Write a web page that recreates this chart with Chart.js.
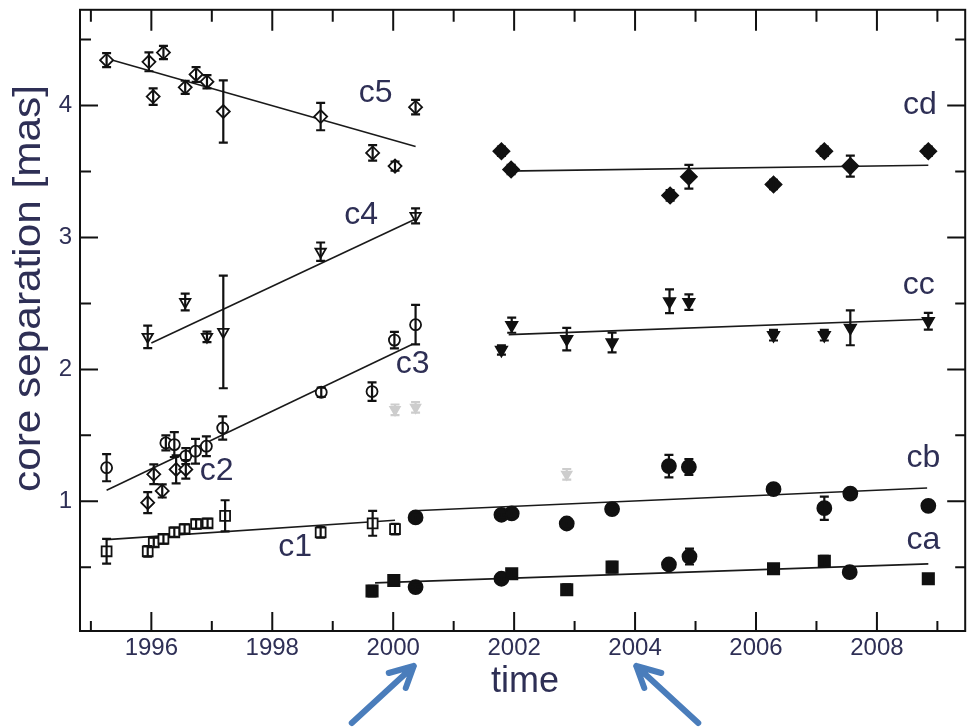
<!DOCTYPE html>
<html><head><meta charset="utf-8">
<script src="https://cdn.jsdelivr.net/npm/chart.js@4.4.0/dist/chart.umd.min.js"></script>
<style>html,body{margin:0;padding:0;overflow:hidden;background:#fff}canvas{display:block}</style>
</head><body><canvas id="c" width="975" height="728"></canvas>
<script>
// ---------- data ----------
const xTickLabels = [1996, 1998, 2000, 2002, 2004, 2006, 2008];
const xMinorTicks = [1995, 1997, 1999, 2001, 2003, 2005, 2007, 2009];
const yTickLabels = [1, 2, 3, 4];
const yMinorTicks = [0.5, 1.5, 2.5, 3.5, 4.5];

const c5Years = [1995.26, 1995.96, 1996.03, 1996.20, 1996.56, 1996.74, 1996.92, 1997.19, 1998.80, 1999.66, 2000.03, 2000.37];
const c5Vals  = [4.344, 4.332, 4.068, 4.402, 4.138, 4.236, 4.181, 3.955, 3.917, 3.641, 3.541, 3.988];
const c5Err   = [0.053, 0.072, 0.063, 0.05, 0.05, 0.056, 0.05, 0.236, 0.104, 0.059, 0.035, 0.055];
const c5FitYears = [1995.26, 2000.37];
const c5FitVals  = [4.357, 3.69];

const c4Years = [1995.94, 1996.56, 1996.92, 1997.19, 1998.80, 2000.37];
const c4Vals  = [2.247, 2.511, 2.247, 2.284, 2.892, 3.164];
const c4Err   = [0.085, 0.063, 0.04, 0.427, 0.07, 0.057];
const c4FitYears = [1996.0, 2000.37];
const c4FitVals  = [2.20, 3.14];

const c3Years = [1995.26, 1996.24, 1996.38, 1996.57, 1996.73, 1996.91, 1997.18, 1998.81, 1999.65, 2000.02, 2000.37];
const c3Vals  = [1.255, 1.443, 1.43, 1.343, 1.38, 1.418, 1.556, 1.827, 1.832, 2.222, 2.339];
const c3Err   = [0.103, 0.057, 0.094, 0.06, 0.094, 0.075, 0.088, 0.035, 0.07, 0.063, 0.15];

const c2Years = [1995.94, 1996.04, 1996.18, 1996.41, 1996.57];
const c2Vals  = [0.99, 1.205, 1.079, 1.242, 1.242];
const c2Err   = [0.08, 0.075, 0.05, 0.106, 0.07];
const c23FitYears = [1995.26, 2000.31];
const c23FitVals  = [1.084, 2.189];

const c1Years = [1995.26, 1995.94, 1996.04, 1996.20, 1996.38, 1996.55, 1996.74, 1996.93, 1997.22, 1998.80, 1999.66, 2000.03];
const c1Vals  = [0.621, 0.621, 0.689, 0.715, 0.765, 0.79, 0.828, 0.833, 0.89, 0.765, 0.833, 0.79];
const c1Err   = [0.094, 0.04, 0.035, 0.035, 0.035, 0.035, 0.035, 0.035, 0.118, 0.04, 0.094, 0.04];
const c1FitYears = [1995.26, 2000.03];
const c1FitVals  = [0.71, 0.856];

const cdYears = [2001.79, 2001.95, 2004.58, 2004.89, 2006.29, 2007.13, 2007.56, 2008.85];
const cdVals  = [3.654, 3.515, 3.319, 3.46, 3.402, 3.654, 3.541, 3.654];
const cdErr   = [0.035, 0.035, 0.04, 0.09, 0.035, 0.035, 0.08, 0.035];
const cdFitYears = [2001.85, 2008.85];
const cdFitVals  = [3.503, 3.548];

const ccYears = [2001.79, 2001.96, 2002.87, 2003.62, 2004.57, 2004.89, 2006.29, 2007.13, 2007.56, 2008.85];
const ccVals  = [2.147, 2.335, 2.23, 2.204, 2.516, 2.51, 2.259, 2.259, 2.315, 2.365];
const ccErr   = [0.035, 0.057, 0.085, 0.075, 0.09, 0.059, 0.04, 0.04, 0.132, 0.063];
const ccFitYears = [2001.91, 2008.85];
const ccFitVals  = [2.264, 2.38];

const cbYears = [2000.37, 2001.79, 2001.96, 2002.87, 2003.62, 2004.56, 2004.89, 2006.29, 2007.13, 2007.56, 2008.85];
const cbVals  = [0.878, 0.898, 0.908, 0.832, 0.941, 1.267, 1.26, 1.092, 0.948, 1.059, 0.966];
const cbErr   = [0.02, 0.02, 0.02, 0.02, 0.02, 0.085, 0.06, 0.02, 0.088, 0.02, 0.02];
const cbFitYears = [2000.35, 2008.83];
const cbFitVals  = [0.928, 1.101];

const caSqYears = [1999.65, 2000.01, 2001.96, 2002.87, 2003.62, 2006.29, 2007.13, 2008.85];
const caSqVals  = [0.32, 0.40, 0.451, 0.33, 0.501, 0.489, 0.546, 0.413];
const caSqErr   = [0.04, 0.02, 0.03, 0.04, 0.04, 0.03, 0.04, 0.03];
const caCiYears = [2000.37, 2001.79, 2004.56, 2004.90, 2007.55];
const caCiVals  = [0.35, 0.413, 0.521, 0.581, 0.463];
const caCiErr   = [0.02, 0.02, 0.035, 0.06, 0.03];
const caFitYears = [1999.7, 2008.85];
const caFitVals  = [0.382, 0.526];

const greyYears = [2000.03, 2000.37, 2002.87];
const greyVals  = [1.694, 1.712, 1.205];
const greyErr   = [0.04, 0.04, 0.04];

const labelTexts = ['c5', 'c4', 'c3', 'c2', 'c1', 'cd', 'cc', 'cb', 'ca'];
const labelYears = [1999.71, 1999.47, 2000.32, 1997.08, 1998.38, 2008.71, 2008.69, 2008.77, 2008.77];
const labelVals  = [4.093, 3.166, 2.036, 1.229, 0.649, 4.003, 2.639, 1.327, 0.702];

const arrowYears = [2000.34, 2004.02];

// ---------- styling / build ----------
const TXT = '#2e2f55';
const pts = (xs, ys) => xs.map((x, i) => ({x, y: ys[i]}));

function marks(xs, ys, errs, style, r, fill, extra) {
  return Object.assign({
    type: 'scatter', data: pts(xs, ys), errors: errs,
    pointStyle: style, pointRadius: r, pointBackgroundColor: fill,
    pointBorderColor: '#111', pointBorderWidth: 1.8, order: 1
  }, extra || {});
}
function fit(xs, ys) {
  return { type: 'scatter', data: pts(xs, ys), showLine: true, pointRadius: 0,
    borderColor: '#1a1a1a', borderWidth: 1.6, fill: false, order: 2 };
}

const datasets = [
  fit(c5FitYears, c5FitVals), fit(c4FitYears, c4FitVals), fit(c23FitYears, c23FitVals),
  fit(c1FitYears, c1FitVals), fit(cdFitYears, cdFitVals), fit(ccFitYears, ccFitVals),
  fit(cbFitYears, cbFitVals), fit(caFitYears, caFitVals),
  marks(greyYears, greyVals, greyErr, 'triangle', 5.5, '#cdcdcd', {pointBorderColor: '#cdcdcd', pointRotation: 180, errColor: '#cdcdcd'}),
  marks(c5Years, c5Vals, c5Err, 'rectRot', 6.5, '#fff'),
  marks(c4Years, c4Vals, c4Err, 'triangle', 6, '#fff', {pointRotation: 180}),
  marks(c3Years, c3Vals, c3Err, 'circle', 5.5, '#fff'),
  marks(c2Years, c2Vals, c2Err, 'rectRot', 6.5, '#fff'),
  marks(c1Years, c1Vals, c1Err, 'rect', 7, '#fff'),
  marks(cdYears, cdVals, cdErr, 'rectRot', 8, '#111'),
  marks(ccYears, ccVals, ccErr, 'triangle', 6.5, '#111', {pointRotation: 180}),
  marks(cbYears, cbVals, cbErr, 'circle', 7, '#111'),
  marks(caSqYears, caSqVals, caSqErr, 'rect', 8, '#111'),
  marks(caCiYears, caCiVals, caCiErr, 'circle', 7, '#111')
];

const errorBars = {
  id: 'errorBars',
  afterDatasetsDraw(chart) {
    const {ctx, scales: {x, y}} = chart;
    ctx.save();
    ctx.lineWidth = 2.2;
    chart.data.datasets.forEach(ds => {
      if (!ds.errors) return;
      ctx.strokeStyle = ds.errColor || '#111';
      ctx.beginPath();
      ds.data.forEach((p, i) => {
        const e = ds.errors[i];
        const px = x.getPixelForValue(p.x);
        const y1 = y.getPixelForValue(p.y - e), y2 = y.getPixelForValue(p.y + e);
        ctx.moveTo(px, y1); ctx.lineTo(px, y2);
        ctx.moveTo(px - 4.5, y1); ctx.lineTo(px + 4.5, y1);
        ctx.moveTo(px - 4.5, y2); ctx.lineTo(px + 4.5, y2);
      });
      ctx.stroke();
    });
    ctx.restore();
  }
};

const frame = {
  id: 'frame',
  afterDraw(chart) {
    const {ctx, chartArea: a, scales: {x, y}} = chart;
    ctx.save();
    ctx.strokeStyle = '#111'; ctx.lineWidth = 2;
    ctx.strokeRect(a.left, a.top, a.right - a.left, a.bottom - a.top);
    ctx.beginPath();
    const vx = (v, lb, lt) => { const p = x.getPixelForValue(v);
      ctx.moveTo(p, a.bottom); ctx.lineTo(p, a.bottom - lb);
      ctx.moveTo(p, a.top); ctx.lineTo(p, a.top + lt); };
    const vy = (v, ll, lr) => { const p = y.getPixelForValue(v);
      ctx.moveTo(a.left, p); ctx.lineTo(a.left + ll, p);
      ctx.moveTo(a.right, p); ctx.lineTo(a.right - lr, p); };
    xTickLabels.forEach(v => vx(v, 19, 21));
    xMinorTicks.forEach(v => vx(v, 10, 12));
    yTickLabels.forEach(v => vy(v, 18, 18));
    yMinorTicks.forEach(v => vy(v, 11, 10));
    ctx.stroke();

    // curve labels
    ctx.fillStyle = TXT;
    ctx.font = '32px "Liberation Sans", Arial, sans-serif';
    ctx.textAlign = 'center'; ctx.textBaseline = 'middle';
    labelTexts.forEach((t, i) => ctx.fillText(t, x.getPixelForValue(labelYears[i]), y.getPixelForValue(labelVals[i])));

    // axis titles
    ctx.font = '36px "Liberation Sans", Arial, sans-serif';
    ctx.fillText('time', 525, 682);
    ctx.save();
    ctx.translate(30, 288.5);
    ctx.rotate(-Math.PI / 2);
    ctx.font = '38px "Liberation Sans", Arial, sans-serif';
    const t = 'core separation [mas]';
    const w = ctx.measureText(t).width;
    ctx.scale(407 / w, 1);
    ctx.fillText(t, 0, 0);
    ctx.restore();

    // arrows
    ctx.strokeStyle = '#4a7dbb'; ctx.lineWidth = 6; ctx.lineCap = 'round'; ctx.lineJoin = 'round';
    arrowYears.forEach((v, i) => {
      const tx = x.getPixelForValue(v), ty = 666, s = i === 0 ? -1 : 1;
      ctx.beginPath();
      ctx.moveTo(tx + s * 62, 723); ctx.lineTo(tx, ty);
      ctx.moveTo(tx + s * 25, ty + 7); ctx.lineTo(tx, ty); ctx.lineTo(tx + s * 8, ty + 22);
      ctx.stroke();
    });
    ctx.restore();
  }
};

new Chart(document.getElementById('c'), {
  type: 'scatter',
  data: { datasets },
  options: {
    responsive: false, animation: false, devicePixelRatio: 1,
    layout: { padding: { top: 6, right: 6, left: 0, bottom: 0 } },
    plugins: { legend: { display: false }, tooltip: { enabled: false } },
    scales: {
      x: {
        type: 'linear', min: 1994.82, max: 2009.46,
        grid: { display: false, drawTicks: false }, border: { display: false },
        afterBuildTicks: s => { s.ticks = xTickLabels.map(v => ({value: v})); },
        afterFit: s => { s.height = 97; s.paddingLeft = 0; s.paddingRight = 0; },
        ticks: { color: TXT, padding: 3, maxRotation: 0, autoSkip: false,
          font: { family: '"Liberation Sans", Arial, sans-serif', size: 24 },
          callback: v => String(v) }
      },
      y: {
        type: 'linear', min: 0.017, max: 4.726,
        grid: { display: false, drawTicks: false }, border: { display: false },
        afterBuildTicks: s => { s.ticks = yTickLabels.map(v => ({value: v})); },
        afterFit: s => { s.width = 80; s.paddingTop = 0; s.paddingBottom = 0; },
        ticks: { color: TXT, padding: 8, autoSkip: false,
          font: { family: '"Liberation Sans", Arial, sans-serif', size: 24 },
          callback: v => String(v) }
      }
    }
  },
  plugins: [errorBars, frame]
});
</script></body></html>
